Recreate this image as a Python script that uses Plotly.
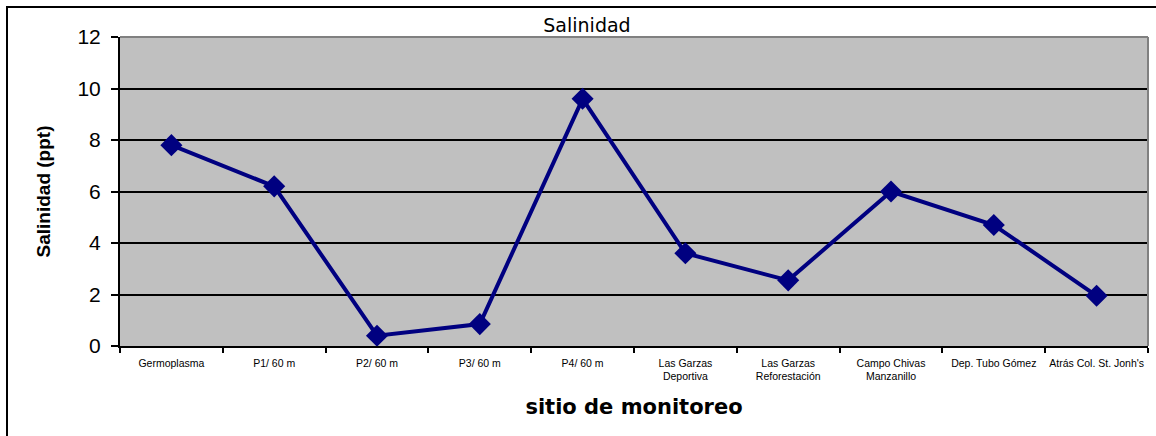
import plotly.graph_objects as go

sites = [
    "Germoplasma",
    "P1/ 60 m",
    "P2/ 60 m",
    "P3/ 60 m",
    "P4/ 60 m",
    "Las Garzas<br>Deportiva",
    "Las Garzas<br>Reforestación",
    "Campo Chivas<br>Manzanillo",
    "Dep. Tubo Gómez",
    "Atrás Col. St. Jonh's",
]
salinity = [7.8, 6.2, 0.4, 0.85, 9.6, 3.6, 2.55, 6.0, 4.7, 1.95]
y_ticks = [0, 2, 4, 6, 8, 10, 12]

W, H = 1156, 436
L, R, T, B = 120, 8, 37, 90
pw, ph = W - L - R, H - T - B

def px_x(p):
    return (p - L) / pw

def px_y(p):
    return (H - B - p) / ph

fig = go.Figure()
fig.add_trace(go.Scatter(
    x=sites, y=salinity, mode="lines+markers",
    line=dict(color="#000080", width=4),
    marker=dict(symbol="diamond", size=17, color="#000080"),
    cliponaxis=False, showlegend=False,
))

fig.update_layout(
    width=W, height=H,
    margin=dict(l=L, r=R, t=T, b=B),
    paper_bgcolor="white",
    plot_bgcolor="#C0C0C0",
    font=dict(family="Liberation Sans, Arial", color="black"),
    title=dict(text="Salinidad", x=587 / W, xref="container", xanchor="center",
               y=1 - 25 / H, yref="container", yanchor="middle",
               font=dict(size=19, family="DejaVu Sans", color="black")),
    xaxis=dict(
        type="category", tickson="boundaries", ticks="outside", ticklen=5,
        tickwidth=2, tickcolor="black", showline=True, linecolor="black",
        linewidth=2, showgrid=False, tickfont=dict(size=10.5),
        tickangle=0, automargin=False, ticklabelstandoff=6,
        title=dict(text="<b>sitio de monitoreo</b>",
                   font=dict(size=21, family="DejaVu Sans"), standoff=18),
        range=[-0.5, 9.5],
    ),
    yaxis=dict(
        range=[0, 12], tickvals=y_ticks, ticks="outside", ticklen=7,
        tickwidth=1.5, tickcolor="black", showline=True, linecolor="black",
        linewidth=2, showgrid=True, gridcolor="black", gridwidth=1.5,
        zeroline=False, tickfont=dict(size=21), ticklabelstandoff=6,
        automargin=False,
        title=dict(text="<b>Salinidad (ppt)</b>", font=dict(size=19), standoff=22),
    ),
    shapes=[
        # outer chart frame
        dict(type="rect", xref="paper", yref="paper",
             x0=px_x(7), x1=px_x(1175), y0=px_y(7), y1=px_y(460),
             line=dict(color="black", width=2), layer="below"),
        # top and right edges of the plot area
        dict(type="line", xref="paper", yref="paper", x0=0, x1=1, y0=1, y1=1,
             line=dict(color="#808080", width=2), layer="above"),
        dict(type="line", xref="paper", yref="paper", x0=1, x1=1, y0=0, y1=1,
             line=dict(color="#808080", width=2), layer="above"),
    ],
)

fig.write_html("out.html")
